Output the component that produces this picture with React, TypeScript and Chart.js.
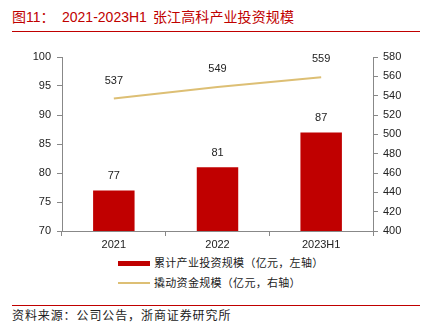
import React, { useEffect, useRef } from "react";
import { Chart, registerables } from "chart.js";
Chart.register(...registerables);

const categories = ["2021", "2022", "2023H1"];
const investValues = [77, 81, 87];
const fundValues = [537, 549, 559];
const leftTicks = [70, 75, 80, 85, 90, 95, 100];
const rightTicks = [400, 420, 440, 460, 480, 500, 520, 540, 560, 580];
const legendBar = "累计产业投资规模（亿元，左轴）";
const legendLine = "撬动资金规模（亿元，右轴）";
const titlePrefix = "图11：";
const titleYears = "2021-2023H1";
const titleCn = "张江高科产业投资规模";
const sourceText = "资料来源：公司公告，浙商证券研究所";

const FONT = "'Liberation Sans', Arial, 'Noto Sans CJK SC', sans-serif";

const labelPlugin = {
  id: "valueLabels",
  afterDatasetsDraw(chart: any) {
    const ctx = chart.ctx;
    ctx.save();
    ctx.font = `11px ${FONT}`;
    ctx.fillStyle = "#222";
    ctx.textAlign = "center";
    ctx.textBaseline = "middle";
    chart.data.datasets.forEach((ds: any, i: number) => {
      const meta = chart.getDatasetMeta(i);
      meta.data.forEach((el: any, j: number) => {
        const off = ds.type === "line" ? 18 : 14;
        ctx.fillText(String(ds.data[j]), el.x, el.y - off);
      });
    });
    ctx.restore();
  },
};

const cnText: any = { textSpacingTrim: "space-all" };

export default function App() {
  const ref = useRef<HTMLCanvasElement | null>(null);
  useEffect(() => {
    if (!ref.current) return;
    const chart = new Chart(ref.current, {
      type: "bar",
      data: {
        labels: categories,
        datasets: [
          {
            type: "line",
            label: legendLine,
            data: fundValues,
            yAxisID: "y2",
            borderColor: "#DDBF74",
            borderWidth: 2,
            pointRadius: 0,
            fill: false,
            order: 0,
          } as any,
          {
            type: "bar",
            label: legendBar,
            data: investValues,
            yAxisID: "y",
            backgroundColor: "#C00000",
            categoryPercentage: 0.8,
            barPercentage: 0.5,
            order: 1,
          },
        ],
      },
      options: {
        animation: false,
        responsive: false,
        maintainAspectRatio: false,
        layout: { padding: { top: 17, left: 0, right: 0, bottom: 0 } },
        plugins: { legend: { display: false }, tooltip: { enabled: false } },
        scales: {
          x: {
            offset: true,
            grid: { offset: true, drawOnChartArea: false, tickLength: 5, color: "#888" },
            border: { display: true, color: "#888", width: 1 },
            ticks: { color: "#222", font: { size: 11, family: FONT }, padding: 2 },
            afterFit: (s: any) => { s.height = 20; },
          },
          y: {
            position: "left",
            min: 70,
            max: 100,
            afterBuildTicks: (s: any) => { s.ticks = leftTicks.map((v) => ({ value: v })); },
            grid: { drawOnChartArea: false, tickLength: 5, color: "#888" },
            border: { display: true, color: "#888", width: 1 },
            ticks: { color: "#222", font: { size: 11, family: FONT }, padding: 6 },
            afterFit: (s: any) => { s.width = 62; },
          },
          y2: {
            position: "right",
            min: 400,
            max: 580,
            afterBuildTicks: (s: any) => { s.ticks = rightTicks.map((v) => ({ value: v })); },
            grid: { drawOnChartArea: false, tickLength: 5, color: "#888" },
            border: { display: true, color: "#888", width: 1 },
            ticks: { color: "#222", font: { size: 11, family: FONT }, padding: 5 },
            afterFit: (s: any) => { s.width = 56; },
          },
        },
      },
      plugins: [labelPlugin],
    });
    return () => chart.destroy();
  }, []);

  return (
    <div style={{ position: "fixed", left: 0, top: 0, width: 429, height: 336, background: "#fff", fontFamily: FONT }}>
      <div style={{ position: "absolute", left: 12, top: 7, fontSize: 14, color: "#C00000", whiteSpace: "pre", lineHeight: "20px", ...cnText }}>
        {titlePrefix}
      </div>
      <div style={{ position: "absolute", left: 62, top: 7, fontSize: 14, color: "#C00000", whiteSpace: "pre", lineHeight: "20px" }}>
        {titleYears}
      </div>
      <div style={{ position: "absolute", left: 153, top: 7, fontSize: 14, color: "#C00000", whiteSpace: "pre", lineHeight: "20px", letterSpacing: "0.1px" }}>
        {titleCn}
      </div>
      <div style={{ position: "absolute", left: 12, width: 408, top: 31, height: 1, background: "#C00000" }} />
      <canvas ref={ref} width={429} height={211} style={{ position: "absolute", left: 0, top: 40, width: 429, height: 211 }} />
      <div style={{ position: "absolute", left: 118, top: 261, width: 32, height: 5, background: "#C00000" }} />
      <div style={{ position: "absolute", left: 154, top: 256, fontSize: 11, color: "#222", lineHeight: "14px", whiteSpace: "pre", letterSpacing: "0.3px", ...cnText }}>{legendBar}</div>
      <div style={{ position: "absolute", left: 118, top: 282, width: 32, height: 2, background: "#DDBF74" }} />
      <div style={{ position: "absolute", left: 154, top: 276, fontSize: 11, color: "#222", lineHeight: "14px", whiteSpace: "pre", letterSpacing: "0.3px", ...cnText }}>{legendLine}</div>
      <div style={{ position: "absolute", left: 12, width: 408, top: 305, height: 1, background: "#C00000" }} />
      <div style={{ position: "absolute", left: 12, top: 308, fontSize: 12, color: "#222", lineHeight: "16px", whiteSpace: "pre", letterSpacing: "0.9px", ...cnText }}>{sourceText}</div>
    </div>
  );
}
